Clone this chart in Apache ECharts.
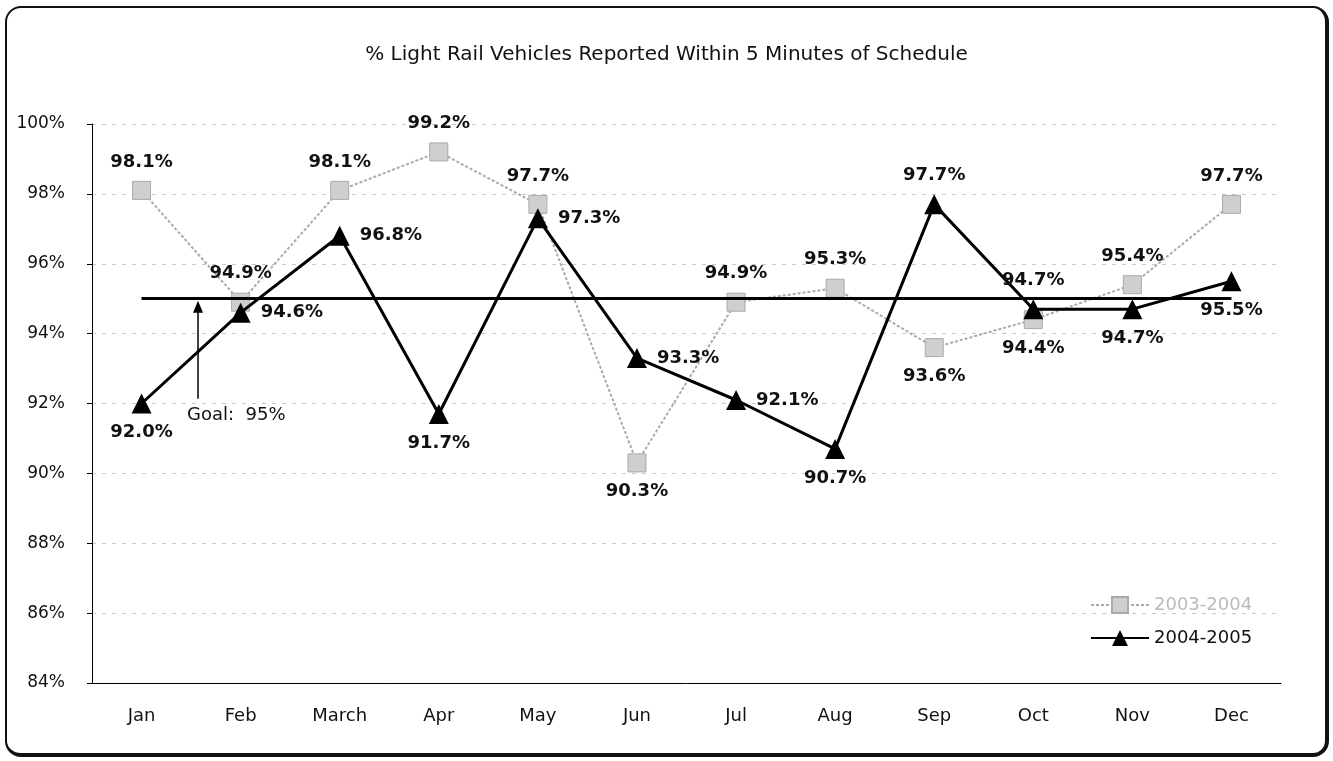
<!DOCTYPE html>
<html>
<head>
<meta charset="utf-8">
<script src="https://cdn.jsdelivr.net/npm/echarts@6/dist/echarts.min.js"></script>
<style>
  body { margin: 0; background: #fff; }
  #wrap { position: relative; width: 1333px; height: 761px; }
  #main { width: 1333px; height: 761px; }
  #frame {
    position: absolute; left: 5px; top: 6px; width: 1318px; height: 745px;
    border: 2px solid #111; border-right-width: 4px; border-bottom-width: 4px;
    border-radius: 16px; pointer-events: none;
  }
</style>
</head>
<body>
<div id="wrap">
  <div id="main"></div>
  <div id="frame"></div>
</div>
<script>
// 月份
const months = ['Jan', 'Feb', 'March', 'Apr', 'May', 'Jun', 'Jul', 'Aug', 'Sep', 'Oct', 'Nov', 'Dec'];
// 两个年度的准点率
const y2003 = [98.1, 94.9, 98.1, 99.2, 97.7, 90.3, 94.9, 95.3, 93.6, 94.4, 95.4, 97.7];
const y2004 = [92.0, 94.6, 96.8, 91.7, 97.3, 93.3, 92.1, 90.7, 97.7, 94.7, 94.7, 95.5];
const goal = 95;

// 标签位置（样式）
const pos2003 = ['top', 'top', 'top', 'top', 'top', 'bottom', 'top', 'top', 'bottom', 'bottom', 'top', 'top'];
const pos2004 = ['bottom', 'right', 'right', 'bottom', 'right', 'right', 'right', 'bottom', 'top', 'top', 'bottom', 'bottom'];

const fontName = 'DejaVu Sans, Arial, sans-serif';
const fmt = p => p.value.toFixed(1) + '%';

let myChart = echarts.init(document.getElementById('main'));

let option = {
  animation: false,
  textStyle: { fontFamily: fontName },
  title: {
    text: '% Light Rail Vehicles Reported Within 5 Minutes of Schedule',
    left: 'center',
    top: 40,
    textStyle: { fontSize: 20, fontWeight: 'normal', color: '#111', fontFamily: fontName }
  },
  legend: {
    orient: 'vertical',
    left: 1085,
    top: 591,
    itemGap: 15,
    itemWidth: 58,
    itemHeight: 20,
    textStyle: { fontSize: 18, color: '#111' },
    data: [
      { name: '2003-2004', textStyle: { color: '#bbb' } },
      { name: '2004-2005' }
    ]
  },
  grid: { left: 92, right: 52, top: 124, bottom: 78 },
  xAxis: {
    type: 'category',
    data: months,
    axisLine: { lineStyle: { color: '#000', width: 1 } },
    axisTick: { show: false },
    axisLabel: { color: '#111', fontSize: 18, margin: 24 }
  },
  yAxis: {
    type: 'value',
    min: 84,
    max: 100,
    interval: 2,
    axisLine: { show: true, lineStyle: { color: '#000', width: 1 } },
    axisTick: { show: true, length: 5, lineStyle: { color: '#000' } },
    axisLabel: { color: '#111', fontSize: 17, margin: 27, formatter: '{value}%' },
    splitLine: { lineStyle: { color: '#c8c8c8', type: [4, 6] } }
  },
  series: [
    {
      name: '2003-2004',
      type: 'line',
      symbol: 'rect',
      symbolSize: 18,
      itemStyle: { color: '#cfcfcf', borderColor: '#aaa', borderWidth: 1 },
      lineStyle: { color: '#aaa', width: 2, type: [3, 2] },
      data: y2003.map((v, i) => ({ value: v, label: { position: pos2003[i] } })),
      label: {
        show: true, formatter: fmt, distance: 10,
        fontSize: 18, fontWeight: 'bold', color: '#111'
      },
      z: 2
    },
    {
      name: '2004-2005',
      type: 'line',
      symbol: 'triangle',
      symbolSize: 20,
      itemStyle: { color: '#000' },
      lineStyle: { color: '#000', width: 3 },
      data: y2004.map((v, i) => ({ value: v, label: { position: pos2004[i] } })),
      label: {
        show: true, formatter: fmt, distance: 10,
        fontSize: 18, fontWeight: 'bold', color: '#111'
      },
      markLine: {
        symbol: 'none',
        silent: true,
        label: { show: false },
        lineStyle: { color: '#000', width: 3, type: 'solid' },
        data: [[{ coord: ['Jan', goal] }, { coord: ['Dec', goal] }]]
      },
      z: 3
    }
  ]
};

myChart.setOption(option);

// 目标注释：箭头与文字
const p0 = myChart.convertToPixel({ xAxisIndex: 0, yAxisIndex: 0 }, ['Jan', goal]);
const p1 = myChart.convertToPixel({ xAxisIndex: 0, yAxisIndex: 0 }, ['Feb', goal]);
const ax = p0[0] + (p1[0] - p0[0]) * 0.57;
const ay = p0[1];
myChart.setOption({
  graphic: [
    { type: 'line', shape: { x1: ax, y1: ay + 8, x2: ax, y2: ay + 100 }, style: { stroke: '#000', lineWidth: 1.5 } },
    { type: 'polygon', shape: { points: [[ax, ay + 2], [ax - 5, ay + 14], [ax + 5, ay + 14]] }, style: { fill: '#000' } },
    { type: 'text', x: ax - 11, y: ay + 108, style: { text: 'Goal:  95%', fontSize: 18, fill: '#111', fontFamily: fontName } }
  ]
});
</script>
</body>
</html>
